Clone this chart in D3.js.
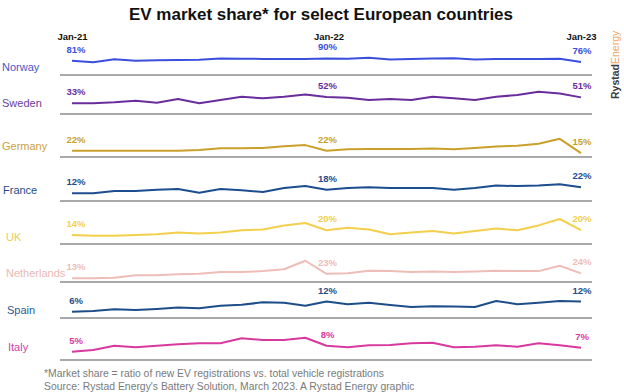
<!DOCTYPE html>
<html>
<head>
<meta charset="utf-8">
<script src="https://cdn.jsdelivr.net/npm/d3@7"></script>
<style>
  body { margin:0; background:#fff; }
  svg text { font-family: "Liberation Sans", Arial, sans-serif; }
</style>
</head>
<body>
<svg id="chart" width="624" height="392"></svg>
<script>
// monthly EV share, Jan-21 .. Jan-23 (25 points)
var countries = ["Norway", "Sweden", "Germany", "France", "UK", "Netherlands", "Spain", "Italy"];
var tickLabels = ["Jan-21", "Jan-22", "Jan-23"];
var tickMonths = [0, 12, 24];

var norway      = [81, 75, 87, 81, 83, 84, 85, 90, 89, 88, 88, 88, 90, 89, 93, 86, 88, 90, 91, 86, 88, 88, 88, 89, 76];
var sweden      = [33, 33, 36, 41, 35, 46, 33, 43, 53, 48, 53, 60, 52, 50, 43, 46, 43, 53, 48, 43, 53, 58, 68, 63, 51];
var germany     = [22, 22, 22, 22, 22, 22, 24, 29, 29, 30, 35, 38, 22, 26, 27, 27, 27, 28, 26, 30, 34, 36, 42, 56, 15];
var france      = [12, 12, 16, 16, 18, 19, 13, 19, 17, 14, 21, 24, 18, 21, 22, 21, 21, 21, 18, 21, 25, 24, 25, 27, 22];
var uk          = [14, 13, 13, 14, 15, 17, 16, 17, 20, 21, 26, 29, 20, 23, 21, 15, 17, 19, 16, 19, 22, 20, 26, 34, 20];
var netherlands = [13, 13, 14, 20, 20, 22, 23, 27, 27, 29, 33, 52, 23, 24, 30, 29, 27, 28, 27, 28, 30, 29, 29, 41, 24];
var spain       = [6, 6.4, 7.4, 7, 7.6, 8.4, 8, 9.5, 10.1, 11.5, 11.3, 9.5, 12, 10.4, 11.3, 10, 8.8, 9.2, 9, 8.8, 12.3, 10.4, 11.3, 12.3, 12];
var italy       = [5, 5.9, 8, 7.2, 8, 8.7, 9.2, 9.2, 11.7, 10.9, 10.9, 12, 8, 7.2, 8.2, 8.4, 9.2, 9.5, 7.2, 7.5, 8.2, 7.5, 9.2, 8.2, 7];

var series = [norway, sweden, germany, france, uk, netherlands, spain, italy];

var lineColors = ["#3a4fdc", "#6a2d9c", "#c9a12a", "#1c4d8f", "#f3cf4b", "#efbdb8", "#1d4e89", "#d8399f"];
var nameColors = ["#4759c2", "#6b3d9c", "#c9a23f", "#1f4d8b", "#ecce55", "#eab9b4", "#2a5a92", "#d43ea2"];

// row layout: y of the first point, px per percentage point, separator, name position
var rows = [
  {y0: 60.7,  k: 0.25, sep: 75,  nx: 2, ny: 70.5},
  {y0: 103.3, k: 0.33, sep: 114, nx: 2, ny: 107},
  {y0: 150.7, k: 0.35, sep: 157, nx: 2, ny: 149.5},
  {y0: 193.3, k: 0.6,  sep: 201, nx: 3, ny: 194},
  {y0: 235,   k: 0.8,  sep: 244, nx: 6, ny: 240.5},
  {y0: 278.3, k: 0.45, sep: 282, nx: 6, ny: 277},
  {y0: 311.7, k: 1.7,  sep: 318, nx: 7, ny: 314},
  {y0: 351.7, k: 2,    sep: 360, nx: 8, ny: 351}
];

var svg = d3.select("#chart");

var x = d3.scaleLinear().domain([0, 24]).range([72, 581]);

svg.append("text")
  .attr("x", 321).attr("y", 20)
  .attr("text-anchor", "middle")
  .attr("font-size", 17).attr("font-weight", "bold")
  .attr("fill", "#111")
  .attr("textLength", 384).attr("lengthAdjust", "spacingAndGlyphs")
  .text("EV market share* for select European countries");

// month labels on top
var axis = svg.append("g")
  .attr("transform", "translate(0,40)")
  .call(d3.axisTop(x).tickValues(tickMonths).tickSize(0).tickPadding(0)
    .tickFormat(function(d, i) { return tickLabels[i]; }));
axis.select(".domain").remove();
axis.selectAll("text")
  .attr("font-family", "Liberation Sans, Arial, sans-serif")
  .attr("font-size", 9.5).attr("font-weight", "bold")
  .attr("fill", "#111").attr("dy", 0)
  .attr("dx", function(d, i) { return i === 1 ? 2 : 0; });

var line = d3.line()
  .x(function(d, i) { return x(i); });

var labelDx = [4, 1, 1];

series.forEach(function(values, r) {
  var row = rows[r];
  var y = d3.scaleLinear()
    .domain([values[0], values[0] + 10])
    .range([row.y0, row.y0 - 10 * row.k]);

  var g = svg.append("g").attr("class", "row");

  g.append("line")
    .attr("x1", 60).attr("x2", 592)
    .attr("y1", row.sep).attr("y2", row.sep)
    .attr("stroke", "#8c8c8c").attr("stroke-width", 1.3);

  g.append("path")
    .datum(values)
    .attr("d", line.y(function(d) { return y(d); }))
    .attr("fill", "none")
    .attr("stroke", lineColors[r])
    .attr("stroke-width", 2)
    .attr("stroke-linejoin", "round");

  g.selectAll("text.val")
    .data(tickMonths)
    .enter().append("text")
    .attr("class", "val")
    .attr("x", function(m, i) { return x(m) + labelDx[i]; })
    .attr("y", function(m) { return y(values[m]) - 8; })
    .attr("text-anchor", "middle")
    .attr("font-size", 9.5).attr("font-weight", "bold")
    .attr("fill", lineColors[r])
    .text(function(m) { return values[m] + "%"; });

  g.append("text")
    .attr("x", row.nx).attr("y", row.ny)
    .attr("font-size", 11)
    .attr("fill", nameColors[r])
    .text(countries[r]);
});

// footnote
svg.append("text")
  .attr("x", 44).attr("y", 377)
  .attr("font-size", 10.4).attr("fill", "#7a7a7a")
  .text("*Market share = ratio of new EV registrations vs. total vehicle registrations");
svg.append("text")
  .attr("x", 44).attr("y", 389.5)
  .attr("font-size", 10.4).attr("fill", "#7a7a7a")
  .text("Source: Rystad Energy's Battery Solution, March 2023. A Rystad Energy graphic");

// logo
var logo = svg.append("text")
  .attr("transform", "translate(619,99) rotate(-90)")
  .attr("font-size", 10.5);
logo.append("tspan").attr("font-weight", "bold").attr("fill", "#3b3b3b").text("Rystad");
logo.append("tspan").attr("fill", "#f1a866").text("Energy");
</script>
</body>
</html>
